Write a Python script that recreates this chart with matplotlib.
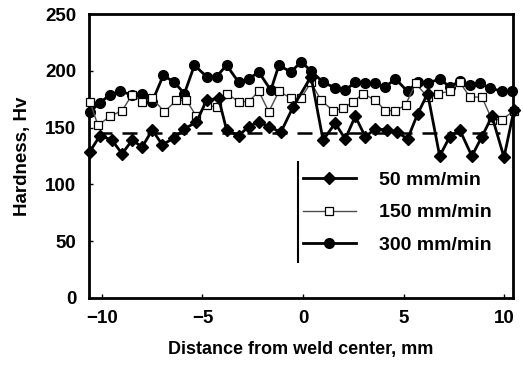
import matplotlib
matplotlib.use("Agg")
import matplotlib.pyplot as plt
from matplotlib.lines import Line2D

plt.rcParams['font.family'] = ['Liberation Sans', 'DejaVu Sans']

# 50 mm/min
x_50 = [-10.6, -10.1, -9.5, -9.0, -8.5, -8.0, -7.5, -7.0, -6.4, -5.9, -5.3, -4.8, -4.2, -3.8,
        -3.2, -2.7, -2.2, -1.7, -1.1, -0.5, 0.4, 1.0, 1.6, 2.1, 2.6, 3.1, 3.6, 4.2, 4.7, 5.2,
        5.7, 6.2, 6.8, 7.3, 7.8, 8.4, 8.9, 9.4, 10.0, 10.5]
hv_50 = [129, 143, 139, 127, 139, 133, 148, 135, 141, 149, 155, 174, 176, 148,
         143, 151, 155, 151, 146, 168, 195, 139, 154, 140, 160, 142, 149, 148, 146, 140,
         162, 180, 125, 142, 148, 125, 142, 160, 124, 166]

# 150 mm/min
x_150 = [-10.6, -10.2, -9.6, -9.0, -8.5, -8.0, -7.5, -6.9, -6.3, -5.8, -5.3, -4.8, -4.3, -3.8,
         -3.2, -2.7, -2.2, -1.7, -1.2, -0.6, -0.1, 0.4, 0.9, 1.5, 2.0, 2.5, 3.0, 3.6, 4.1, 4.6,
         5.1, 5.6, 6.2, 6.7, 7.3, 7.8, 8.3, 8.9, 9.4, 9.9, 10.5]
hv_150 = [173, 152, 160, 165, 179, 173, 176, 164, 174, 174, 160, 170, 168, 180,
          173, 173, 182, 164, 182, 176, 176, 190, 174, 165, 167, 173, 180, 174, 165, 165,
          170, 189, 177, 180, 182, 190, 177, 177, 157, 157, 165]

# 300 mm/min
x_300 = [-10.6, -10.1, -9.6, -9.1, -8.5, -8.0, -7.5, -6.95, -6.4, -5.9, -5.4, -4.8, -4.3, -3.8,
         -3.2, -2.7, -2.2, -1.6, -1.2, -0.6, -0.1, 0.4, 1.0, 1.6, 2.1, 2.6, 3.1, 3.6, 4.1, 4.6,
         5.2, 5.7, 6.2, 6.8, 7.3, 7.8, 8.3, 8.8, 9.3, 9.9, 10.4]
hv_300 = [164, 172, 179, 182, 179, 180, 173, 196, 190, 180, 205, 195, 195, 205,
          190, 193, 199, 183, 205, 199, 208, 200, 190, 185, 183, 190, 189, 189, 186, 193,
          182, 190, 189, 193, 186, 191, 188, 189, 185, 182, 182]

base_hardness = 145
x_ticks = [-10, -5, 0, 5, 10]
y_ticks = [0, 50, 100, 150, 200, 250]

fig = plt.figure(figsize=(5.23, 3.72), dpi=100)
ax = fig.add_axes([0.170, 0.199, 0.811, 0.763])

ax.axhline(base_hardness, xmin=0.02, xmax=0.97, color='black', lw=1.8,
           dashes=(6, 4), zorder=1)

ax.plot(x_150, hv_150, color='0.3', lw=1.0, marker='s', ms=6, mfc='white',
        mec='black', mew=0.9, label='150 mm/min', clip_on=False, zorder=3)
ax.plot(x_300, hv_300, color='black', lw=2.0, marker='o', ms=7, mfc='black',
        mec='black', label='300 mm/min', clip_on=False, zorder=2)
ax.plot(x_50, hv_50, color='black', lw=2.0, marker='D', ms=6, mfc='black',
        mec='black', label='50 mm/min', clip_on=False, zorder=4)

ax.set_xlim(-10.65, 10.45)
ax.set_ylim(0, 250)
ax.set_xticks(x_ticks)
ax.set_yticks(y_ticks)
ax.set_xticklabels(['\u221210', '\u22125', '0', '5', '10'])
ax.tick_params(direction='in', length=3, width=1, labelsize=13.5, pad=9)
for lab in ax.get_xticklabels() + ax.get_yticklabels():
    lab.set_fontweight('bold')
for sp in ax.spines.values():
    sp.set_linewidth(2)

ax.set_xlabel('Distance from weld center, mm', fontsize=13, fontweight='bold', labelpad=10)
ax.set_ylabel('Hardness, Hv', fontsize=13.5, fontweight='bold', labelpad=10)

handles, labels = ax.get_legend_handles_labels()
order = [2, 0, 1]
leg = ax.legend([handles[i] for i in order], [labels[i] for i in order],
                loc='upper left', bbox_to_anchor=(0.505, 0.445), frameon=False,
                prop={'size': 14, 'weight': 'bold'}, handlelength=2.7,
                handletextpad=1.2, labelspacing=0.75, borderpad=0, borderaxespad=0)
ax.add_line(Line2D([0.493, 0.493], [0.127, 0.479], transform=ax.transAxes,
                   color='black', lw=1.5))

fig.savefig('out.png', dpi=100)
